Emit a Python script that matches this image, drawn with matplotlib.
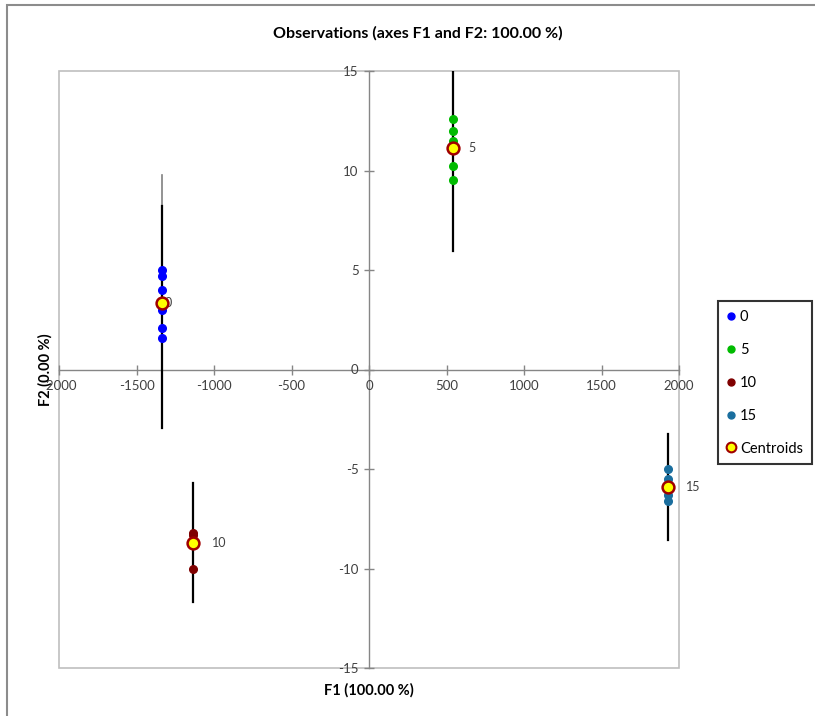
import matplotlib
matplotlib.use("Agg")
import matplotlib.pyplot as plt
from matplotlib.lines import Line2D
from matplotlib.patches import Rectangle

plt.rcParams["font.family"] = ["Lato", "DejaVu Sans"]
plt.rcParams["axes.unicode_minus"] = False

# ── data ───────────────────────────────────────
groups = ["0", "5", "10", "15"]
colors = ["#0000FF", "#00BB00", "#7F0000", "#1A6E9E"]

obs_f1 = {
    "0":  [-1335, -1335, -1335, -1335, -1335, -1335],
    "5":  [540, 540, 540, 540, 540],
    "10": [-1133, -1133, -1133, -1133],
    "15": [1927, 1927, 1927, 1927],
}
obs_f2 = {
    "0":  [5.0, 4.7, 4.0, 3.0, 2.1, 1.6],
    "5":  [12.6, 12.0, 11.5, 10.25, 9.5],
    "10": [-8.2, -8.3, -8.6, -10.0],
    "15": [-5.0, -5.5, -6.3, -6.6],
}

cent_f1 = [-1335, 540, -1133, 1927]
cent_f2 = [3.35, 11.15, -8.7, -5.9]

# degenerate confidence ellipses (vertical segments): (low, high)
ell_black = [(-2.95, 8.2), (5.95, 15.0), (-11.7, -5.7), (-8.55, -3.25)]
ell_grey = [(-2.9, 9.75), None, None, (-6.9, -4.6)]

label_dx = [3, 16, 19, 18]   # label offsets, pixels

xticks = [-2000, -1500, -1000, -500, 0, 500, 1000, 1500, 2000]
yticks = [-15, -10, -5, 0, 5, 10, 15]

# ── figure ─────────────────────────────────────
fig = plt.figure(figsize=(8.15, 7.16), dpi=100)
fig.patches.append(Rectangle((7 / 815, -0.01), 1.0, 1 - 5 / 716 + 0.01,
                             transform=fig.transFigure, fill=False,
                             ec="#8C8C8C", lw=1.5))

ax = fig.add_axes([59 / 815, 48 / 716, 620 / 815, 597 / 716])
ax.set_xlim(-2000, 2000)
ax.set_ylim(-15, 15)

for i, g in enumerate(groups):
    f1 = cent_f1[i]
    if ell_grey[i] is not None:
        lo, hi = ell_grey[i]
        ax.plot([f1, f1], [lo, hi], color="#808080", lw=1.2, zorder=1.8)
    lo, hi = ell_black[i]
    ax.plot([f1, f1], [lo, hi], color="black", lw=1.6, zorder=2)
    ax.plot(obs_f1[g], obs_f2[g], "o", color=colors[i], ms=5.5,
            mec=colors[i], zorder=3)

ax.plot(cent_f1, cent_f2, "o", ms=8.5, mfc="#FFFF00", mec="#A00000",
        mew=1.8, zorder=4)

for i, g in enumerate(groups):
    ax.annotate(g, (cent_f1[i], cent_f2[i]), xytext=(label_dx[i], 0),
                textcoords="offset pixels", ha="left", va="center",
                fontsize=9, color="#404040", zorder=3.5)

# axes through the origin
for side in ["top", "right"]:
    ax.spines[side].set_visible(False)
ax.spines["left"].set_position(("data", 0))
ax.spines["bottom"].set_position(("data", 0))
for side in ["left", "bottom"]:
    ax.spines[side].set_color("#868686")
    ax.spines[side].set_linewidth(1)
    ax.spines[side].set_zorder(1)
ax.add_patch(Rectangle((0, 0), 1, 1, transform=ax.transAxes, fill=False,
                       ec="#BFBFBF", lw=1.2, clip_on=False, zorder=0.5))

ax.set_xticks(xticks)
ax.set_yticks(yticks)
ax.tick_params(direction="inout", length=7, width=1, color="#868686",
               labelsize=9.5, labelcolor="#404040", pad=4)

ax.set_xlabel("F1 (100.00 %)", fontsize=10.5, fontweight="bold")
ax.xaxis.set_label_coords(0.5, -0.025)
ax.set_ylabel("F2 (0.00 %)", fontsize=10.5, fontweight="bold")
ax.yaxis.set_label_coords(-0.01, 0.5)

fig.text(418 / 815, 1 - 33 / 716, "Observations (axes F1 and F2: 100.00 %)",
         ha="center", va="center", fontsize=11.5, fontweight="bold")

handles = [Line2D([], [], ls="", marker="o", color=c, ms=5) for c in colors]
handles.append(Line2D([], [], ls="", marker="o", ms=7, mfc="#FFFF00",
                      mec="#A00000", mew=1.5))
leg = fig.legend(handles, groups + ["Centroids"], loc="upper left",
                 bbox_to_anchor=(718 / 815, 1 - 301 / 716), fontsize=10.5,
                 frameon=True, fancybox=False, edgecolor="black",
                 handlelength=0.6, handletextpad=0.3, labelspacing=1.3,
                 borderpad=0.6, borderaxespad=0)
leg.get_frame().set_linewidth(1.5)

fig.savefig("out.png", dpi=100)
